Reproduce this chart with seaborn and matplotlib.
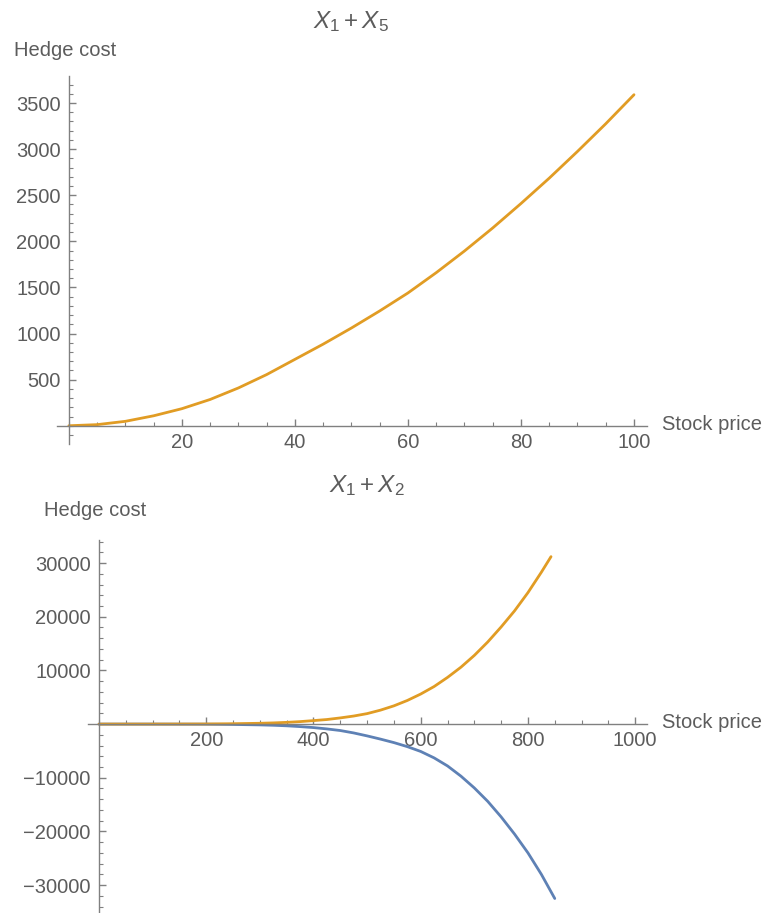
import numpy as np
import pandas as pd
import matplotlib
matplotlib.use("Agg")
import matplotlib.pyplot as plt
from matplotlib.ticker import MultipleLocator, FixedLocator, FuncFormatter
import seaborn as sns

# ---- data ----
top_x = [0, 5, 10, 15, 20, 25, 30, 35, 40, 45, 50, 55, 60, 65, 70, 75, 80, 85, 90, 95, 100]
top_y = [0, 12, 48, 108, 185, 285, 410, 555, 720, 885, 1060, 1245, 1440, 1660, 1895, 2145, 2410, 2685, 2975, 3275, 3590]

bot_x_orange = [0, 100, 200, 250, 300, 325, 350, 375, 400, 425, 450, 475, 500, 525, 550, 575, 600,
                625, 650, 675, 700, 725, 750, 775, 800, 825, 843]
bot_y_orange = [0, 0, 20, 70, 150, 220, 320, 460, 650, 850, 1150, 1500, 1950, 2600, 3400, 4400, 5600,
                7000, 8700, 10600, 12800, 15300, 18100, 21100, 24500, 28300, 31200]
bot_x_blue = [0, 100, 200, 250, 300, 325, 350, 375, 400, 425, 450, 475, 500, 525, 550, 575, 600,
              625, 650, 675, 700, 725, 750, 775, 800, 825, 850]
bot_y_blue = [0, 0, -20, -70, -150, -220, -320, -470, -650, -900, -1200, -1650, -2200, -2800, -3450, -4200, -5100,
              -6300, -7800, -9700, -11900, -14400, -17300, -20500, -24000, -28000, -32500]

top_xticks = [20, 40, 60, 80, 100]
top_yticks = [500, 1000, 1500, 2000, 2500, 3000, 3500]
bot_xticks = [200, 400, 600, 800, 1000]
bot_yticks = [-30000, -20000, -10000, 10000, 20000, 30000]

title_top = r"$X_1+X_5$"
title_bot = r"$X_1+X_2$"
ylabel = "Hedge cost"
xlabel = "Stock price"

ORANGE = "#E19C24"
BLUE = "#5E81B5"
TEXT = "#5c5c5c"
AXIS = "#808080"

sns.set_style("white")
plt.rcParams["font.family"] = ["Liberation Sans", "DejaVu Sans"]
plt.rcParams["mathtext.fontset"] = "custom"
plt.rcParams["mathtext.rm"] = "Liberation Sans"
plt.rcParams["mathtext.it"] = "Liberation Sans:italic"
plt.rcParams["axes.unicode_minus"] = True

W, H = 771, 913
fig = plt.figure(figsize=(W / 100, H / 100), dpi=100)


def px_axes(left, right, top, bottom):
    return fig.add_axes([left / W, 1 - bottom / H, (right - left) / W, (bottom - top) / H])


def style_axis(ax):
    for s in ["top", "right"]:
        ax.spines[s].set_visible(False)
    for s in ["left", "bottom"]:
        ax.spines[s].set_position(("data", 0))
        ax.spines[s].set_color(AXIS)
        ax.spines[s].set_linewidth(1.0)
    ax.tick_params(which="both", direction="in", colors=AXIS, labelcolor=TEXT, labelsize=14.5,
                   bottom=True, left=True, top=False, right=False)
    ax.tick_params(which="major", length=5, width=1.0)
    ax.tick_params(which="minor", length=3, width=0.8)
    ax.tick_params(axis="x", which="major", pad=5)
    ax.tick_params(axis="y", which="major", pad=6)
    ax.set_xlabel("")
    ax.set_ylabel("")
    ax.patch.set_alpha(0)


fmt = FuncFormatter(lambda v, p: ("\u2212" if v < 0 else "") + f"{abs(int(round(v)))}")

# ---- top panel ----
ax1 = px_axes(57, 647, 76, 444)
d1 = pd.DataFrame({"x": top_x, "y": top_y})
sns.lineplot(data=d1, x="x", y="y", ax=ax1, color=ORANGE, linewidth=2.0)
ax1.set_xlim(-2.1, 102.3)
ax1.set_ylim(-198, 3793)
ax1.xaxis.set_major_locator(FixedLocator(top_xticks))
ax1.xaxis.set_minor_locator(MultipleLocator(5))
ax1.yaxis.set_major_locator(FixedLocator(top_yticks))
ax1.yaxis.set_minor_locator(MultipleLocator(100))
ax1.xaxis.set_major_formatter(fmt)
ax1.yaxis.set_major_formatter(fmt)
style_axis(ax1)

# ---- bottom panel ----
ax2 = px_axes(88, 647, 540, 913)
d_b = pd.DataFrame({"x": bot_x_blue, "y": bot_y_blue})
d_o = pd.DataFrame({"x": bot_x_orange, "y": bot_y_orange})
sns.lineplot(data=d_b, x="x", y="y", ax=ax2, color=BLUE, linewidth=2.0)
sns.lineplot(data=d_o, x="x", y="y", ax=ax2, color=ORANGE, linewidth=2.0)
ax2.set_xlim(-20.5, 1022)
ax2.set_ylim(-35200, 34300)
ax2.xaxis.set_major_locator(FixedLocator(bot_xticks))
ax2.xaxis.set_minor_locator(MultipleLocator(50))
ax2.yaxis.set_major_locator(FixedLocator(bot_yticks))
ax2.yaxis.set_minor_locator(MultipleLocator(2000))
ax2.xaxis.set_major_formatter(fmt)
ax2.yaxis.set_major_formatter(fmt)
style_axis(ax2)

# ---- texts ----
def ftext(x, y, s, **kw):
    fig.text(x / W, 1 - y / H, s, color=TEXT, **kw)

ftext(351, 22, title_top, ha="center", va="center", fontsize=17.5)
ftext(367, 486, title_bot, ha="center", va="center", fontsize=17.5)
ftext(14, 50, ylabel, ha="left", va="center", fontsize=14.5)
ftext(44, 511, ylabel, ha="left", va="center", fontsize=14.5)
ftext(662, 424, xlabel, ha="left", va="center", fontsize=14.5)
ftext(662, 722, xlabel, ha="left", va="center", fontsize=14.5)

fig.savefig("out.png", dpi=100, facecolor="white")
